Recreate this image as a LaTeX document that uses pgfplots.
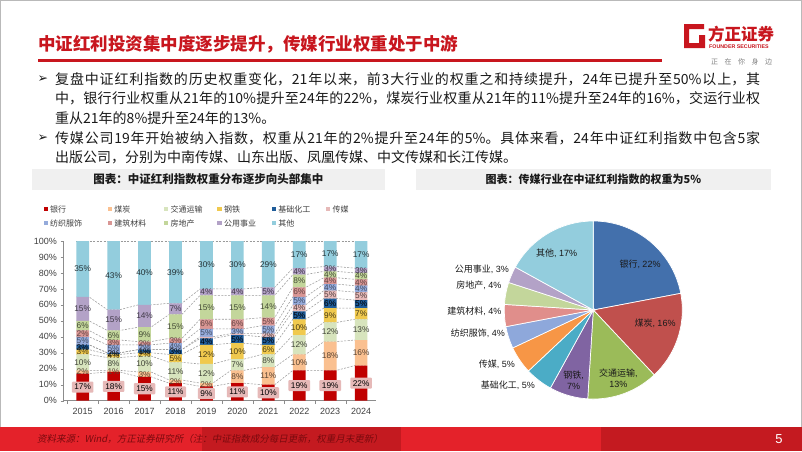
\documentclass[border=0pt]{standalone}
\usepackage{pgfplots}
\pgfplotsset{compat=1.18}
\usepackage{pgfplotstable}
\usepackage{fontspec}
\setmainfont{Noto Sans CJK SC}
\newfontfamily\lat{Liberation Sans}
\newfontfamily\dejavu{DejaVu Sans}
\newfontfamily\cjkit[FakeSlant=0.2]{Noto Sans CJK SC}
\XeTeXlinebreaklocale "zh"
\XeTeXlinebreakskip=0pt plus 2pt minus 0.4pt

\definecolor{titlered}{HTML}{C8161E}
\definecolor{bodytext}{HTML}{1A1A1A}
\definecolor{boxgray}{HTML}{F0F0F0}
\definecolor{axisgray}{HTML}{8C8C8C}
\definecolor{ticktext}{HTML}{404040}
\definecolor{dashgray}{HTML}{9A9A9A}
\definecolor{footA}{HTML}{E4222A}
\definecolor{footB}{HTML}{C41A20}
\definecolor{foottext}{HTML}{7A0A0E}
% bar colours
\definecolor{cBank}{HTML}{C00000}
\definecolor{cCoal}{HTML}{FAC090}
\definecolor{cTrans}{HTML}{D7E4BD}
\definecolor{cSteel}{HTML}{F0C94E}
\definecolor{cChem}{HTML}{1F5C99}
\definecolor{cMedia}{HTML}{E6B9B8}
\definecolor{cTextile}{HTML}{95ABDB}
\definecolor{cBuild}{HTML}{D99694}
\definecolor{cEstate}{HTML}{C3D69B}
\definecolor{cUtil}{HTML}{B3A2C7}
\definecolor{cOther}{HTML}{93CDDD}
% pie colours
\definecolor{pBank}{HTML}{4370AC}
\definecolor{pCoal}{HTML}{C0504D}
\definecolor{pTrans}{HTML}{9BBB59}
\definecolor{pSteel}{HTML}{8064A2}
\definecolor{pChem}{HTML}{4BACC6}
\definecolor{pMedia}{HTML}{F79646}
\definecolor{pTextile}{HTML}{8EA8DB}
\definecolor{pBuild}{HTML}{E08E8B}
\definecolor{pEstate}{HTML}{C3D69B}
\definecolor{pUtil}{HTML}{B3A2C7}
\definecolor{pOther}{HTML}{93CDDD}

% weights (%) by year, bottom to top
\pgfplotstableread{
x bank coal trans steel chem media textile build estate util other
0 17 2 10 3 3 0 5 4 6 15 35
1 18 1 8 2 1 0 5 3 6 13 43
2 15 3 10 2 2 0 3 2 9 14 40
3 11 2 11 5 3 0 4 3 15 7 39
4 9 2 12 12 4 1 5 6 15 4 30
5 11 8 7 10 5 1 3 6 15 4 30
6 10 11 8 6 5 2 5 5 14 5 29
7 19 10 12 10 5 4 5 6 8 4 17
8 19 18 12 9 6 5 4 4 4 3 16
9 22 16 13 7 5 5 4 4 4 3 17
}\bardata

% cumulative boundaries at the bar edges (for the series lines)
\pgfplotstableread{
x c1 c2 c3 c4 c5 c6 c7 c8 c9 c10 c11
-0.205 17 19 29 32 35 35 40 44 50 65 100
0.205 17 19 29 32 35 35 40 44 50 65 100
0.795 18 19 27 29 30 30 35 38 44 57 100
1.205 18 19 27 29 30 30 35 38 44 57 100
1.795 15 18 28 30 32 32 35 37 46 60 100
2.205 15 18 28 30 32 32 35 37 46 60 100
2.795 11 13 24 29 32 32 36 39 54 61 100
3.205 11 13 24 29 32 32 36 39 54 61 100
3.795 9 11 23 35 39 40 45 51 66 70 100
4.205 9 11 23 35 39 40 45 51 66 70 100
4.795 11 19 26 36 41 42 45 51 66 70 100
5.205 11 19 26 36 41 42 45 51 66 70 100
5.795 10 21 29 35 40 42 47 52 66 71 100
6.205 10 21 29 35 40 42 47 52 66 71 100
6.795 19 29 41 51 56 60 65 71 79 83 100
7.205 19 29 41 51 56 60 65 71 79 83 100
7.795 19 37 49 58 64 69 73 77 81 84 100
8.205 19 37 49 58 64 69 73 77 81 84 100
8.795 22 38 51 58 63 68 72 76 80 83 100
9.205 22 38 51 58 63 68 72 76 80 83 100
}\cumdata

\newcommand\lbl[3][]{\addplot[only marks, mark=*, mark size=0pt, mark options={draw=none,fill=none}, point meta=explicit, nodes near coords={\pgfmathprintnumber{\pgfplotspointmeta}\%}, every node near coord/.append style={text=#2,#1}] coordinates {#3};}

\newcommand\slice[3]{\addplot[fill=#3, draw=white, line width=0.7pt, domain=#1:#2, samples=60, variable=\t] ({cos(\t)},{sin(\t)}) -- (axis cs:0,0) -- cycle;}

\newcommand\legitem[4]{\fill[#3] (#1pt,-#2pt-2.1pt) rectangle ++(4.3pt,4.3pt);
  \node[anchor=west, inner sep=0pt, text=ticktext, font=\fontsize{8}{9}\selectfont] at (#1pt+6.5pt,-#2pt) {#4};}

\newcommand\bodyline[2]{\node[anchor=west, inner sep=0pt, text=bodytext, font=\fontsize{14}{16}\selectfont] at (55pt,-#1pt) {\parbox{705pt}{\parfillskip=0pt\relax #2}};}
\newcommand\bodyshort[2]{\node[anchor=west, inner sep=0pt, text=bodytext, font=\fontsize{14}{16}\selectfont] at (55pt,-#1pt) {#2};}
\newcommand\arrowbullet[1]{\node[anchor=west, inner sep=0pt, text=bodytext, font=\dejavu\fontsize{12.5}{13}\selectfont] at (37.5pt,-#1pt) {➢};}

\begin{document}
\begin{tikzpicture}
\fill[white] (0pt,0pt) rectangle (802pt,-451pt);
\draw[gray!55, line width=0.8pt] (0.4pt,-0.4pt) rectangle (801.6pt,-450.6pt);
\coordinate (barsw) at (63.5pt,-400.7pt);
\coordinate (piec) at (593.3pt,-310pt);

% ---- header ----
\node[anchor=west, inner sep=0pt, text=titlered, font=\bfseries\fontsize{17.5}{18}\selectfont] at (38pt,-44pt) {中证红利投资集中度逐步提升，传媒行业权重处于中游};
\fill[titlered] (38pt,-59.3pt) rectangle (662pt,-61.5pt);
% logo
\fill[titlered] (684pt,-24pt) -- (704pt,-24pt) -- (704pt,-29pt) -- (689pt,-29pt) -- (689pt,-43pt) -- (699pt,-43pt) -- (699pt,-35pt) -- (705pt,-35pt) -- (705pt,-48pt) -- (684pt,-48pt) -- cycle;
\node[anchor=west, inner sep=0pt, text=titlered, font=\bfseries\fontsize{16.5}{17}\selectfont] at (708pt,-34pt) {方正证券};
\node[anchor=west, inner sep=0pt, text=titlered, font=\lat\bfseries\fontsize{5.3}{6}\selectfont] at (709pt,-46.5pt) {FOUNDER SECURITIES};
\node[anchor=west, inner sep=0pt, text=gray, font=\fontsize{7}{7}\selectfont] at (711pt,-62pt) {正\hspace{6.5pt}在\hspace{6.5pt}你\hspace{6.5pt}身\hspace{6.5pt}边};

% ---- bullets ----
\arrowbullet{79}
\bodyline{79}{复盘中证红利指数的历史权重变化，21年以来，前3大行业的权重之和持续提升，24年已提升至50\%以上，其}
\bodyline{98.5}{中，银行行业权重从21年的10\%提升至24年的22\%，煤炭行业权重从21年的11\%提升至24年的16\%，交运行业权}
\bodyshort{118}{重从21年的8\%提升至24年的13\%。}
\arrowbullet{138.5}
\bodyline{138.5}{传媒公司19年开始被纳入指数，权重从21年的2\%提升至24年的5\%。具体来看，24年中证红利指数中包含5家}
\bodyshort{157.5}{出版公司，分别为中南传媒、山东出版、凤凰传媒、中文传媒和长江传媒。}

% ---- chart titles ----
\fill[boxgray] (31.7pt,-169pt) rectangle (385pt,-189.5pt);
\node[text=bodytext, font=\bfseries\fontsize{11.5}{12}\selectfont] at (208.3pt,-179.3pt) {图表：中证红利指数权重分布逐步向头部集中};
\fill[boxgray] (416pt,-169pt) rectangle (771pt,-189.5pt);
\node[text=bodytext, font=\bfseries\fontsize{11}{12}\selectfont] at (593.5pt,-179.3pt) {图表：传媒行业在中证红利指数的权重为5\%};

% ---- legend ----
\legitem{43.5}{209.3}{cBank}{银行}
\legitem{107.7}{209.3}{cCoal}{煤炭}
\legitem{164}{209.3}{cTrans}{交通运输}
\legitem{217.3}{209.3}{cSteel}{钢铁}
\legitem{271.7}{209.3}{cChem}{基础化工}
\legitem{326}{209.3}{cMedia}{传媒}
\legitem{43.5}{223.3}{cTextile}{纺织服饰}
\legitem{107.7}{223.3}{cBuild}{建筑材料}
\legitem{164}{223.3}{cEstate}{房地产}
\legitem{217.3}{223.3}{cUtil}{公用事业}
\legitem{271.7}{223.3}{cOther}{其他}

% ---- series lines (under the bars) ----
\begin{axis}[at={(barsw)}, anchor=south west, scale only axis, width=312.5pt, height=159.7pt,
  xmin=-0.62, xmax=9.48, ymin=0, ymax=100, hide axis, clip=false]
\pgfplotsinvokeforeach{1,...,11}{\addplot[draw=dashgray, line width=0.55pt, dash pattern=on 2pt off 1.4pt, mark=none] table[x=x,y=c#1]{\cumdata};}
\end{axis}

% ---- stacked bars ----
\begin{axis}[at={(barsw)}, anchor=south west, scale only axis, width=312.5pt, height=159.7pt,
  xmin=-0.62, xmax=9.48, ymin=0, ymax=100,
  ybar stacked, bar width=0.41,
  axis x line*=bottom, axis y line*=left, axis line style={-, draw=axisgray, line width=0.6pt},
  ytick={0,10,...,100}, yticklabels={0\%,10\%,20\%,30\%,40\%,50\%,60\%,70\%,80\%,90\%,100\%},
  xtick={0,...,9}, xticklabels={2015,2016,2017,2018,2019,2020,2021,2022,2023,2024},
  minor xtick={-0.5,0.5,...,8.5},
  major x tick style={draw=none}, minor x tick style={draw=axisgray},
  ytick style={draw=axisgray}, tick align=outside, major tick length=3pt, minor tick length=3.5pt,
  tick label style={font=\lat\fontsize{9}{10}\selectfont, text=ticktext},
  xticklabel style={yshift=-1pt},
  /pgf/number format/assume math mode=true]
\addplot[fill=cBank, draw=none] table[x=x,y=bank]{\bardata};
\addplot[fill=cCoal, draw=none] table[x=x,y=coal]{\bardata};
\addplot[fill=cTrans, draw=none] table[x=x,y=trans]{\bardata};
\addplot[fill=cSteel, draw=none] table[x=x,y=steel]{\bardata};
\addplot[fill=cChem, draw=none] table[x=x,y=chem]{\bardata};
\addplot[fill=cMedia, draw=none] table[x=x,y=media]{\bardata};
\addplot[fill=cTextile, draw=none] table[x=x,y=textile]{\bardata};
\addplot[fill=cBuild, draw=none] table[x=x,y=build]{\bardata};
\addplot[fill=cEstate, draw=none] table[x=x,y=estate]{\bardata};
\addplot[fill=cUtil, draw=none] table[x=x,y=util]{\bardata};
\addplot[fill=cOther, draw=none] table[x=x,y=other]{\bardata};
\end{axis}

% ---- data labels ----
\begin{axis}[at={(barsw)}, anchor=south west, scale only axis, width=312.5pt, height=159.7pt,
  xmin=-0.62, xmax=9.48, ymin=0, ymax=100, hide axis, clip=false,
  nodes near coords style={anchor=center, font=\lat\fontsize{8.3}{9}\selectfont, inner sep=0.3pt},
  /pgf/number format/assume math mode=true]
\lbl[fill=cMedia, inner xsep=2.5pt, inner ysep=2.6pt, rounded corners=1pt]{black}{(0,8.5)[17] (1,9)[18] (2,7.5)[15] (3,5.5)[11] (4,4.5)[9] (5,5.5)[11] (6,5)[10] (7,9.5)[19] (8,9.5)[19] (9,11)[22]}
\lbl{cCoal!35!black}{(0,18)[2] (1,18.5)[1] (2,16.5)[3] (3,12)[2] (4,10)[2] (5,15)[8] (6,15.5)[11] (7,24)[10] (8,28)[18] (9,30)[16]}
\lbl{cTrans!30!black}{(0,24)[10] (1,23)[8] (2,23)[10] (3,18.5)[11] (4,17)[12] (5,22.5)[7] (6,25)[8] (7,35)[12] (8,43)[12] (9,44.5)[13]}
\lbl{cSteel!30!black}{(0,30.5)[3] (1,28)[4] (2,29)[2] (3,26.5)[5] (4,29)[12] (5,31)[10] (6,32)[6] (7,46)[10] (8,53.5)[9] (9,54.5)[7]}
\lbl{black}{(0,33.5)[3] (1,29.5)[2] (2,31)[1] (3,30.5)[3] (4,37)[4] (5,38.5)[5] (6,37.5)[5] (7,53.5)[5] (8,61)[6] (9,60.5)[5]}
\lbl{cMedia!35!black}{(6,41)[2] (7,58)[4] (8,66.5)[5] (9,65.5)[5]}
\lbl{cTextile!45!black}{(0,37.5)[5] (1,32.5)[5] (2,33.5)[2] (3,34)[4] (4,42.5)[5] (5,43.5)[3] (6,44.5)[5] (7,62.5)[5] (8,71)[4] (9,70)[4]}
\lbl{cBuild!45!black}{(0,42)[2] (1,36.5)[3] (2,36)[2] (3,37.5)[3] (4,48)[6] (5,48)[6] (6,49.5)[5] (7,68)[6] (8,75)[4] (9,74)[4]}
\lbl{cEstate!35!black}{(0,47)[6] (1,41)[6] (2,41.5)[9] (3,46.5)[15] (4,58.5)[15] (5,58.5)[15] (6,59)[14] (7,75)[8] (8,79)[4] (9,78)[4]}
\lbl{cUtil!35!black}{(0,57.5)[15] (1,50.5)[15] (2,53)[14] (3,57.5)[7] (4,68)[4] (5,68)[4] (6,68.5)[5] (7,81)[4] (8,82.5)[3] (9,81.5)[3]}
\lbl{cOther!25!black}{(0,82.5)[35] (1,78.5)[43] (2,80)[40] (3,80.5)[39] (4,85)[30] (5,85)[30] (6,85.5)[29] (7,91.5)[17] (8,92)[17] (9,91.5)[17]}
\end{axis}

% ---- pie (clockwise from 12 o'clock; 3.6 degrees per percent) ----
\begin{axis}[at={(piec)}, anchor=center, x=89pt, y=89pt, xmin=-1, xmax=1, ymin=-1, ymax=1, hide axis, clip=false]
\slice{10.8}{90}{pBank}      % 22
\slice{-46.8}{10.8}{pCoal}   % 16
\slice{-93.6}{-46.8}{pTrans} % 13
\slice{-118.8}{-93.6}{pSteel}% 7
\slice{-136.8}{-118.8}{pChem}% 5
\slice{-154.8}{-136.8}{pMedia}% 5
\slice{-169.2}{-154.8}{pTextile}% 4
\slice{-183.6}{-169.2}{pBuild}% 4
\slice{-198}{-183.6}{pEstate}% 4
\slice{-208.8}{-198}{pUtil}  % 3
\slice{-270}{-208.8}{pOther} % 17
\end{axis}

% pie labels
\begin{scope}[every node/.style={inner sep=0pt, text=bodytext, font=\fontsize{9}{11}\selectfont}]
\node at (640pt,-264pt) {银行{\lat, 22\%}};
\node at (655pt,-323.3pt) {煤炭{\lat, 16\%}};
\node[align=center] at (618.3pt,-378.3pt) {交通运输{\lat,}\\{\lat 13\%}};
\node[align=center] at (573.6pt,-380pt) {钢铁{\lat,}\\{\lat 7\%}};
\node at (556.7pt,-253.3pt) {其他{\lat, 17\%}};
\node[anchor=east] at (509pt,-269.3pt) {公用事业{\lat, 3\%}};
\node[anchor=east] at (501.7pt,-285.7pt) {房地产{\lat, 4\%}};
\node[anchor=east] at (501.7pt,-311pt) {建筑材料{\lat, 4\%}};
\node[anchor=east] at (505pt,-333.3pt) {纺织服饰{\lat, 4\%}};
\node[anchor=east] at (515pt,-364.3pt) {传媒{\lat, 5\%}};
\node[anchor=east] at (535pt,-385pt) {基础化工{\lat, 5\%}};
\end{scope}

% ---- footer ----
\fill[footA] (0pt,-427pt) rectangle (202pt,-451pt);
\fill[footB] (202pt,-427pt) rectangle (401pt,-451pt);
\fill[footA] (401pt,-427pt) rectangle (601pt,-451pt);
\fill[footB] (601pt,-427pt) rectangle (802pt,-451pt);
\node[anchor=west, inner sep=0pt, text=foottext, font=\cjkit\fontsize{9.5}{10}\selectfont] at (37pt,-439pt) {资料来源：Wind，方正证券研究所（注：中证指数成分每日更新，权重月末更新）};
\node[inner sep=0pt, text=white, font=\lat\fontsize{13}{13}\selectfont] at (779pt,-439pt) {5};
\end{tikzpicture}
\end{document}
